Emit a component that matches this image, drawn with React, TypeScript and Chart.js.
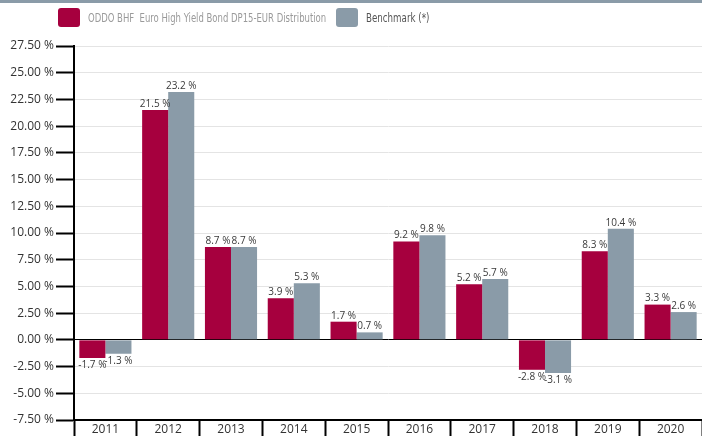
import React, { useEffect, useRef } from "react";
import { Chart, registerables } from "chart.js";

Chart.register(...registerables);

const years = ["2011", "2012", "2013", "2014", "2015", "2016", "2017", "2018", "2019", "2020"];
const fundLabel = "ODDO BHF  Euro High Yield Bond DP15-EUR Distribution";
const benchLabel = "Benchmark (*)";
const fundValues = [-1.7, 21.5, 8.7, 3.9, 1.7, 9.2, 5.2, -2.8, 8.3, 3.3];
const benchValues = [-1.3, 23.2, 8.7, 5.3, 0.7, 9.8, 5.7, -3.1, 10.4, 2.6];
const yMin = -7.5;
const yMax = 27.5;
const yStep = 2.5;

const RED = "#A6003E";
const GREY = "#8A9BA8";
const TICK_FONT = "'Open Sans', 'Noto Sans', sans-serif";
const LEGEND_FONT = "'Liberation Sans Narrow', 'DejaVu Sans Condensed', sans-serif";

const valueLabels = {
  id: "valueLabels",
  afterDatasetsDraw(chart: any) {
    const ctx = chart.ctx;
    ctx.save();
    ctx.font = `10px ${TICK_FONT}`;
    ctx.fillStyle = "#3a3a3a";
    ctx.textAlign = "center";
    chart.data.datasets.forEach((ds: any, i: number) => {
      const meta = chart.getDatasetMeta(i);
      meta.data.forEach((bar: any, j: number) => {
        const v = ds.data[j];
        const txt = `${v.toFixed(1)} %`;
        if (v >= 0) {
          ctx.textBaseline = "bottom";
          ctx.fillText(txt, bar.x, bar.y - 1);
        } else {
          ctx.textBaseline = "top";
          ctx.fillText(txt, bar.x, bar.y + 2);
        }
      });
    });
    ctx.restore();
  },
};

export default function App() {
  const ref = useRef<HTMLCanvasElement>(null);
  useEffect(() => {
    document.body.style.margin = "0";
    const chart = new Chart(ref.current!, {
      type: "bar",
      data: {
        labels: years,
        datasets: [
          { label: fundLabel, data: fundValues, backgroundColor: RED, borderWidth: 0, categoryPercentage: 0.83, barPercentage: 1 },
          { label: benchLabel, data: benchValues, backgroundColor: GREY, borderWidth: 0, categoryPercentage: 0.83, barPercentage: 1 },
        ],
      },
      options: {
        responsive: false,
        animation: false,
        devicePixelRatio: 1,
        layout: { padding: { top: 46, right: 0, left: 0, bottom: 0 } },
        plugins: { legend: { display: false }, tooltip: { enabled: false } },
        scales: {
          x: {
            grid: {
              offset: true,
              drawOnChartArea: false,
              tickLength: 16,
              tickColor: "#000",
              tickWidth: 2,
            },
            border: { color: "#000", width: 2 },
            ticks: { color: "#333", font: { family: TICK_FONT, size: 12 }, padding: -14 },
            afterFit(scale: any) {
              scale.height = 16;
            },
          },
          y: {
            min: yMin,
            max: yMax,
            grid: {
              color: (c: any) => (c.tick && c.tick.value === 0 ? "#000" : "#e4e4e4"),
              lineWidth: 1,
              tickLength: 18,
              tickColor: "#000",
              tickWidth: 2,
            },
            border: { color: "#000", width: 2 },
            ticks: {
              stepSize: yStep,
              color: "#333",
              font: { family: TICK_FONT, size: 12 },
              padding: 2,
              callback: (v: any) => `${Number(v).toFixed(2)} %`,
            },
            afterFit(scale: any) {
              scale.width = 74;
            },
          },
        },
      },
      plugins: [valueLabels],
    });
    return () => chart.destroy();
  }, []);

  const box = (color: string) => ({
    display: "inline-block",
    width: 22,
    height: 19,
    borderRadius: 3,
    background: color,
    marginRight: 8,
    flex: "none",
  });

  const slot = (width: number, color: string, marginRight: number) => ({
    display: "inline-block",
    width,
    marginRight,
    color,
    overflow: "visible",
    whiteSpace: "pre" as const,
    flex: "none",
  });

  return (
    <div style={{ position: "absolute", left: 0, top: 0, width: 702, height: 436, background: "#fff" }}>
      <div style={{ position: "absolute", left: 0, top: 0, width: 702, height: 3, background: GREY }} />
      <div
        style={{
          position: "absolute",
          left: 58,
          top: 8,
          height: 19,
          display: "flex",
          alignItems: "center",
          fontFamily: LEGEND_FONT,
          fontSize: 11.5,
          whiteSpace: "pre",
        }}
      >
        <span style={box(RED)} />
        <span style={slot(239, "#9a9a9a", 9)}>
          <span style={{ display: "inline-block", transform: "scaleX(0.82)", transformOrigin: "left center" }}>{fundLabel}</span>
        </span>
        <span style={box(GREY)} />
        <span style={slot(58, "#555", 0)}>
          <span style={{ display: "inline-block", transform: "scaleX(0.84)", transformOrigin: "left center" }}>{benchLabel}</span>
        </span>
      </div>
      <canvas ref={ref} width={702} height={436} style={{ display: "block" }} />
    </div>
  );
}
